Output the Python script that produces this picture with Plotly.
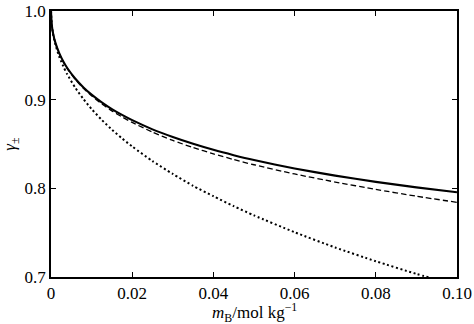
import plotly.graph_objects as go

# Molality of the solute, mol/kg
molality = [0, 0.0002, 0.0005, 0.001, 0.002, 0.003, 0.004, 0.006, 0.008, 0.01,
            0.0125, 0.015, 0.0175, 0.02, 0.025, 0.03, 0.035, 0.04, 0.045, 0.05,
            0.06, 0.07, 0.08, 0.09, 0.1]

# Mean activity coefficient, extended law with linear term (solid)
gamma_extended_c = [1.0, 0.9840, 0.9751, 0.9655, 0.9527, 0.9433, 0.9357, 0.9236,
                    0.9138, 0.9057, 0.8970, 0.8894, 0.8828, 0.8769, 0.8665,
                    0.8578, 0.8502, 0.8434, 0.8374, 0.8319, 0.8224, 0.8143,
                    0.8073, 0.8011, 0.7956]

# Mean activity coefficient, extended Debye-Hückel law (dashed)
gamma_extended = [1.0, 0.9839, 0.9750, 0.9654, 0.9524, 0.9428, 0.9351, 0.9228,
                  0.9127, 0.9043, 0.8953, 0.8874, 0.8805, 0.8743, 0.8634,
                  0.8540, 0.8460, 0.8389, 0.8325, 0.8266, 0.8162, 0.8071,
                  0.7988, 0.7911, 0.7842]

# Mean activity coefficient, limiting law (dotted)
gamma_limiting = [1.0, 0.9836, 0.9741, 0.9636, 0.9489, 0.9378, 0.9286, 0.9133,
                  0.9006, 0.8894, 0.8772, 0.8662, 0.8563, 0.8472, 0.8307,
                  0.8162, 0.8028, 0.7911, 0.7799, 0.7695, 0.7505, 0.7333,
                  0.7178, 0.7035, 0.6907]

x_ticks = [0, 0.02, 0.04, 0.06, 0.08, 0.10]
x_tick_labels = ["0", "0.02", "0.04", "0.06", "0.08", "0.10"]
y_ticks = [0.7, 0.8, 0.9, 1.0]
y_tick_labels = ["0.7", "0.8", "0.9", "1.0"]

fig = go.Figure()
fig.add_trace(go.Scatter(x=molality, y=gamma_limiting, mode="lines",
                         line=dict(color="black", width=2, dash="2px,2.6px",
                                   shape="spline", smoothing=0.6)))
fig.add_trace(go.Scatter(x=molality, y=gamma_extended, mode="lines",
                         line=dict(color="black", width=1.3, dash="5.5px,3px",
                                   shape="spline", smoothing=0.6)))
fig.add_trace(go.Scatter(x=molality, y=gamma_extended_c, mode="lines",
                         line=dict(color="black", width=2.1,
                                   shape="spline", smoothing=0.6)))

font = dict(family="Times New Roman", size=17, color="black")

fig.update_layout(
    width=474, height=324,
    margin=dict(l=51, r=17, t=11, b=47, autoexpand=False),
    paper_bgcolor="white", plot_bgcolor="white",
    showlegend=False,
    font=font,
)
fig.update_xaxes(
    range=[0, 0.1], tickvals=x_ticks, ticktext=x_tick_labels,
    ticks="inside", ticklen=5, tickwidth=1.3, tickcolor="black",
    showline=True, linecolor="black", linewidth=1.6, mirror="ticks",
    showgrid=False, zeroline=False, tickfont=font, automargin=False,
)
fig.update_yaxes(
    range=[0.7, 1.0], tickvals=y_ticks, ticktext=y_tick_labels,
    ticks="inside", ticklen=5, tickwidth=1.3, tickcolor="black",
    showline=True, linecolor="black", linewidth=1.6, mirror="ticks",
    showgrid=False, zeroline=False, tickfont=font, automargin=False,
    title=dict(text="<i>γ</i><sub>±</sub>", font=font, standoff=8),
)

# x-axis title placed under the tick labels
fig.add_annotation(
    text="<i>m</i><sub>B</sub>/mol kg<sup>−1</sup>",
    xref="paper", yref="paper", x=0.5, y=0,
    xanchor="center", yanchor="middle", yshift=-35,
    showarrow=False, font=font,
)

fig.write_html("out.html")
